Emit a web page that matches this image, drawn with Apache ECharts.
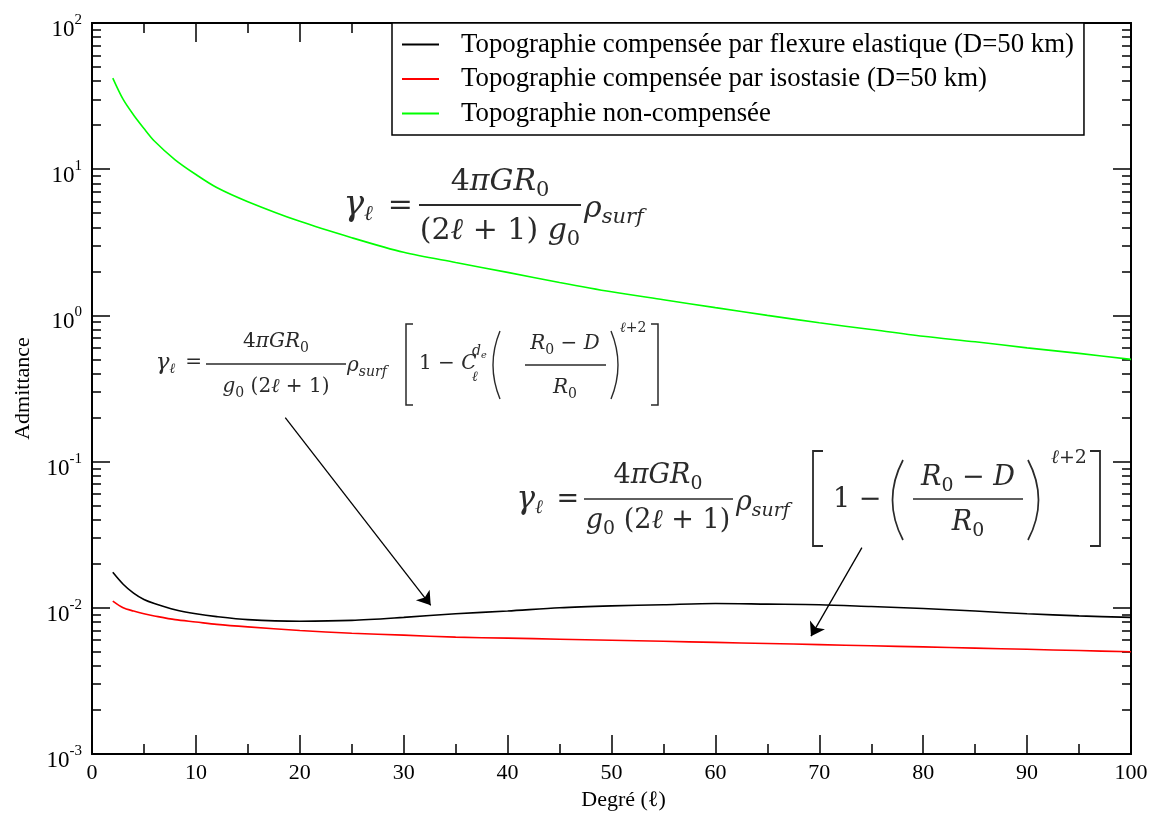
<!DOCTYPE html>
<html>
<head>
<meta charset="utf-8">
<script src="https://cdn.jsdelivr.net/npm/echarts@6/dist/echarts.min.js"></script>
<style>
  html, body { margin: 0; padding: 0; background: #fff; }
  #chart { width: 1158px; height: 816px; }
</style>
</head>
<body>
<div id="chart"></div>
<script>
// ---- data ----
const degrees = [2, 3, 4, 5, 6, 8, 10, 12, 15, 20, 25, 30, 35, 40, 45, 50, 55, 60, 65, 70, 75, 80, 85, 90, 95, 100];
const flexure = [0.0175, 0.0145, 0.0126, 0.0114, 0.0107, 0.0097, 0.0091, 0.0087, 0.0083, 0.0081, 0.0082, 0.0086, 0.0091, 0.0095, 0.0100, 0.0103, 0.0105, 0.0107, 0.0106, 0.0105, 0.0102, 0.0099, 0.0095, 0.0091, 0.0088, 0.0086];
const isostasy = [0.0111, 0.0100, 0.0095, 0.0091, 0.0088, 0.0083, 0.0080, 0.0077, 0.0074, 0.0070, 0.0067, 0.0065, 0.0063, 0.0062, 0.0061, 0.0060, 0.0059, 0.0058, 0.0057, 0.0056, 0.0055, 0.0054, 0.0053, 0.0052, 0.0051, 0.0050];
const uncompensated = [42, 30, 23.5, 19.0, 15.6, 11.6, 9.2, 7.5, 6.0, 4.4, 3.4, 2.7, 2.3, 1.97, 1.68, 1.45, 1.28, 1.13, 1.0, 0.89, 0.80, 0.72, 0.66, 0.60, 0.55, 0.50];
const seriesNames = [
  'Topographie compensée par flexure elastique (D=50 km)',
  'Topographie compensée par isostasie (D=50 km)',
  'Topographie non-compensée'
];
const seriesColors = ['#000000', '#ff0000', '#00ff00'];
const xLabelTicks = [0, 10, 20, 30, 40, 50, 60, 70, 80, 90, 100];
const yDecades = [-3, -2, -1, 0, 1, 2];
// arrows (data space): [start, end]
const arrowFlexure = [[18.6, 0.20], [32.6, 0.0104]];
const arrowIsostasy = [[74.1, 0.0258], [69.2, 0.0064]];

// ---- chart ----
const F = "'Liberation Serif', 'Times New Roman', serif";
const yMin = Math.pow(10, yDecades[0]);
const yMax = Math.pow(10, yDecades[yDecades.length - 1]);
const minorValues = [];
for (let d = yDecades[0]; d < yDecades[yDecades.length - 1]; d++) {
  for (let m = 2; m <= 9; m++) minorValues.push(+(m * Math.pow(10, d)).toPrecision(3));
}

const chart = echarts.init(document.getElementById('chart'), null, { renderer: 'canvas' });

const axisLineStyle = { color: '#000', width: 1.8 };
function xAxisCfg(pos, labels) {
  return {
    type: 'value', position: pos, offset: 0, min: xLabelTicks[0], max: xLabelTicks[xLabelTicks.length - 1], interval: 10,
    axisLine: { show: true, onZero: false, lineStyle: axisLineStyle },
    axisTick: { show: true, inside: true, length: 19, lineStyle: { color: '#000', width: 1.5 } },
    minorTick: { show: true, splitNumber: 2, length: 10, lineStyle: { color: '#000', width: 1.5 } },
    splitLine: { show: false }, minorSplitLine: { show: false },
    axisLabel: { show: labels, color: '#000', fontFamily: F, fontSize: 22, margin: 8 },
    name: labels ? 'Degré (ℓ)' : '', nameLocation: 'middle', nameGap: 34,
    nameTextStyle: { color: '#000', fontFamily: F, fontSize: 22, padding: [0, 0, 0, 24] }
  };
}
function yMajor(pos, labels) {
  return {
    type: 'log', logBase: 10, position: pos, offset: 0, min: yMin, max: yMax, splitNumber: 5,
    axisLine: { show: true, onZero: false, lineStyle: axisLineStyle },
    axisTick: { show: true, inside: true, length: 18, lineStyle: { color: '#000', width: 1.5 } },
    splitLine: { show: false },
    axisLabel: {
      show: labels, margin: 10, padding: [14, 0, 0, 0],
      formatter: function (v) { return '{b|10}{s|' + Math.round(Math.log10(v)) + '}'; },
      rich: {
        b: { fontFamily: F, fontSize: 23, color: '#000', lineHeight: 35 },
        s: { fontFamily: F, fontSize: 15, color: '#000', lineHeight: 10, verticalAlign: 'top' }
      }
    },
    name: labels ? 'Admittance' : '', nameLocation: 'middle', nameGap: 58,
    nameTextStyle: { color: '#000', fontFamily: F, fontSize: 22 }
  };
}
function yMinor(pos) {
  return {
    type: 'log', logBase: 10, position: pos, offset: 0, min: yMin, max: yMax,
    axisLine: { show: true, onZero: false, lineStyle: axisLineStyle },
    axisTick: { show: true, inside: true, length: 9, customValues: minorValues, lineStyle: { color: '#000', width: 1.5 } },
    axisLabel: { show: false }, splitLine: { show: false }
  };
}

// ---- math annotations (graphic text) ----
const MF = "'DejaVu Serif', 'Liberation Serif', serif";
const INK = '#2a2a2a';
function richFor(s) {
  return {
    i: { fontFamily: MF, fontStyle: 'italic', fontSize: s, lineHeight: 1.3 * s, fill: INK },
    g: { fontFamily: MF, fontStyle: 'italic', fontSize: 1.15 * s, lineHeight: 1.3 * s, fill: INK },
    n: { fontFamily: MF, fontSize: s, lineHeight: 1.3 * s, fill: INK },
    sb: { fontFamily: MF, fontStyle: 'italic', fontSize: 0.7 * s, lineHeight: 0.7 * s, verticalAlign: 'bottom', fill: INK },
    sbn: { fontFamily: MF, fontSize: 0.7 * s, lineHeight: 0.7 * s, verticalAlign: 'bottom', fill: INK }
  };
}
function mt(x, y, text, s, align) {
  return { type: 'text', x: x, y: y, z: 10, silent: true,
    style: { text: text, rich: richFor(s), align: align || 'left', verticalAlign: 'middle', fill: INK } };
}
function bar(x1, x2, y, w) {
  return { type: 'line', z: 10, silent: true, shape: { x1: x1, y1: y, x2: x2, y2: y }, style: { stroke: INK, lineWidth: w || 1.5 } };
}
function bracket(xOuter, xInner, y1, y2, w) {
  return { type: 'polyline', z: 10, silent: true,
    shape: { points: [[xInner, y1], [xOuter, y1], [xOuter, y2], [xInner, y2]] },
    style: { stroke: INK, lineWidth: w || 1.6, fill: null } };
}
function paren(xEnd, xMid, y1, y2, w) {
  return { type: 'bezierCurve', z: 10, silent: true,
    shape: { x1: xEnd, y1: y1, x2: xEnd, y2: y2, cpx1: xMid, cpy1: (y1 + y2) / 2 },
    style: { stroke: INK, lineWidth: w || 1.6, fill: null } };
}
const NUM = '{n|4}{i|πGR}{sbn|0}';
const ELL = '{g|γ}{sb|ℓ}{n|\u2002=}';
const RHO = '{i|ρ}{sb|surf}';
const graphics = [
  // equation 1 (uncompensated)
  mt(413, 206, ELL, 30, 'right'),
  bar(419, 581, 205, 1.8),
  mt(500, 182, NUM, 30, 'center'),
  mt(500, 231, '{n|(2}{i|ℓ}{n| + 1) }{i|g}{sbn|0}', 30, 'center'),
  mt(584, 209, RHO, 30, 'left'),
  // equation 2 (flexure)
  mt(202, 363, ELL, 20, 'right'),
  bar(206, 346, 364, 1.3),
  mt(276, 342, NUM, 20, 'center'),
  mt(276, 387, '{i|g}{sbn|0}{n| (2}{i|ℓ}{n| + 1)}', 20, 'center'),
  mt(347, 366, RHO, 20, 'left'),
  bracket(406, 413, 324, 405, 1.5),
  mt(419, 364, '{n|1 − }{i|C}', 20, 'left'),
  mt(472, 351, '{i|d}{sb|e}', 14, 'left'),
  mt(472, 377, '{i|ℓ}', 14, 'left'),
  paren(500, 486, 331, 399, 1.4),
  mt(565, 344, '{i|R}{sbn|0}{n| − }{i|D}', 20, 'center'),
  bar(525, 606, 365, 1.3),
  mt(565, 388, '{i|R}{sbn|0}', 20, 'center'),
  paren(611, 625, 331, 399, 1.4),
  mt(620, 328, '{i|ℓ}{n|+2}', 14, 'left'),
  bracket(658, 651, 324, 405, 1.5),
  // equation 3 (isostasy)
  mt(579, 500, ELL, 27, 'right'),
  bar(584, 733, 499, 1.7),
  mt(658, 476, NUM, 27, 'center'),
  mt(658, 521, '{i|g}{sbn|0}{n| (2}{i|ℓ}{n| + 1)}', 27, 'center'),
  mt(736, 503, RHO, 27, 'left'),
  bracket(813, 823, 451, 546, 1.8),
  mt(833, 500, '{n|1 −}', 27, 'left'),
  paren(903, 882, 460, 540, 1.7),
  mt(968, 478, '{i|R}{sbn|0}{n| − }{i|D}', 27, 'center'),
  bar(913, 1023, 499, 1.7),
  mt(968, 523, '{i|R}{sbn|0}', 27, 'center'),
  paren(1028, 1049, 460, 540, 1.7),
  mt(1051, 458, '{i|ℓ}{n|+2}', 19, 'left'),
  bracket(1100, 1090, 451, 546, 1.8)
];

function mkSeries(idx, values, extra) {
  return Object.assign({
    name: seriesNames[idx], type: 'line', xAxisIndex: 0, yAxisIndex: 0,
    data: degrees.map((d, i) => [d, values[i]]),
    symbol: 'none', showSymbol: false, smooth: 0.3,
    lineStyle: { color: seriesColors[idx], width: 1.6 }, itemStyle: { color: seriesColors[idx] },
    emphasis: { disabled: true }, silent: true, animation: false, z: 3
  }, extra || {});
}

const arrowML = {
  silent: true, symbol: ['none', 'arrow'], symbolSize: 13, animation: false,
  label: { show: false }, emphasis: { disabled: true },
  lineStyle: { color: '#000', width: 1.3, type: 'solid' },
  data: [
    [{ coord: arrowFlexure[0] }, { coord: arrowFlexure[1] }],
    [{ coord: arrowIsostasy[0] }, { coord: arrowIsostasy[1] }]
  ]
};

const option = {
  backgroundColor: '#fff',
  animation: false,
  grid: { left: 92, right: 27, top: 23, bottom: 62, containLabel: false },
  xAxis: [xAxisCfg('bottom', true), xAxisCfg('top', false)],
  yAxis: [yMajor('left', true), yMajor('right', false), yMinor('left'), yMinor('right')],
  legend: {
    orient: 'vertical', left: 392, top: 23,
    backgroundColor: '#fff', borderColor: '#000', borderWidth: 1.5, borderRadius: 0,
    padding: [8, 10, 8, 10], itemGap: 7.5, itemWidth: 37, itemHeight: 2, icon: 'rect',
    textStyle: { fontFamily: F, fontSize: 26.8, color: '#000', padding: [0, 0, 0, 17] },
    selectedMode: false,
    data: seriesNames
  },
  series: [
    mkSeries(0, flexure, { markLine: arrowML }),
    mkSeries(1, isostasy),
    mkSeries(2, uncompensated)
  ],
  graphic: graphics
};
chart.setOption(option);
</script>
</body>
</html>
